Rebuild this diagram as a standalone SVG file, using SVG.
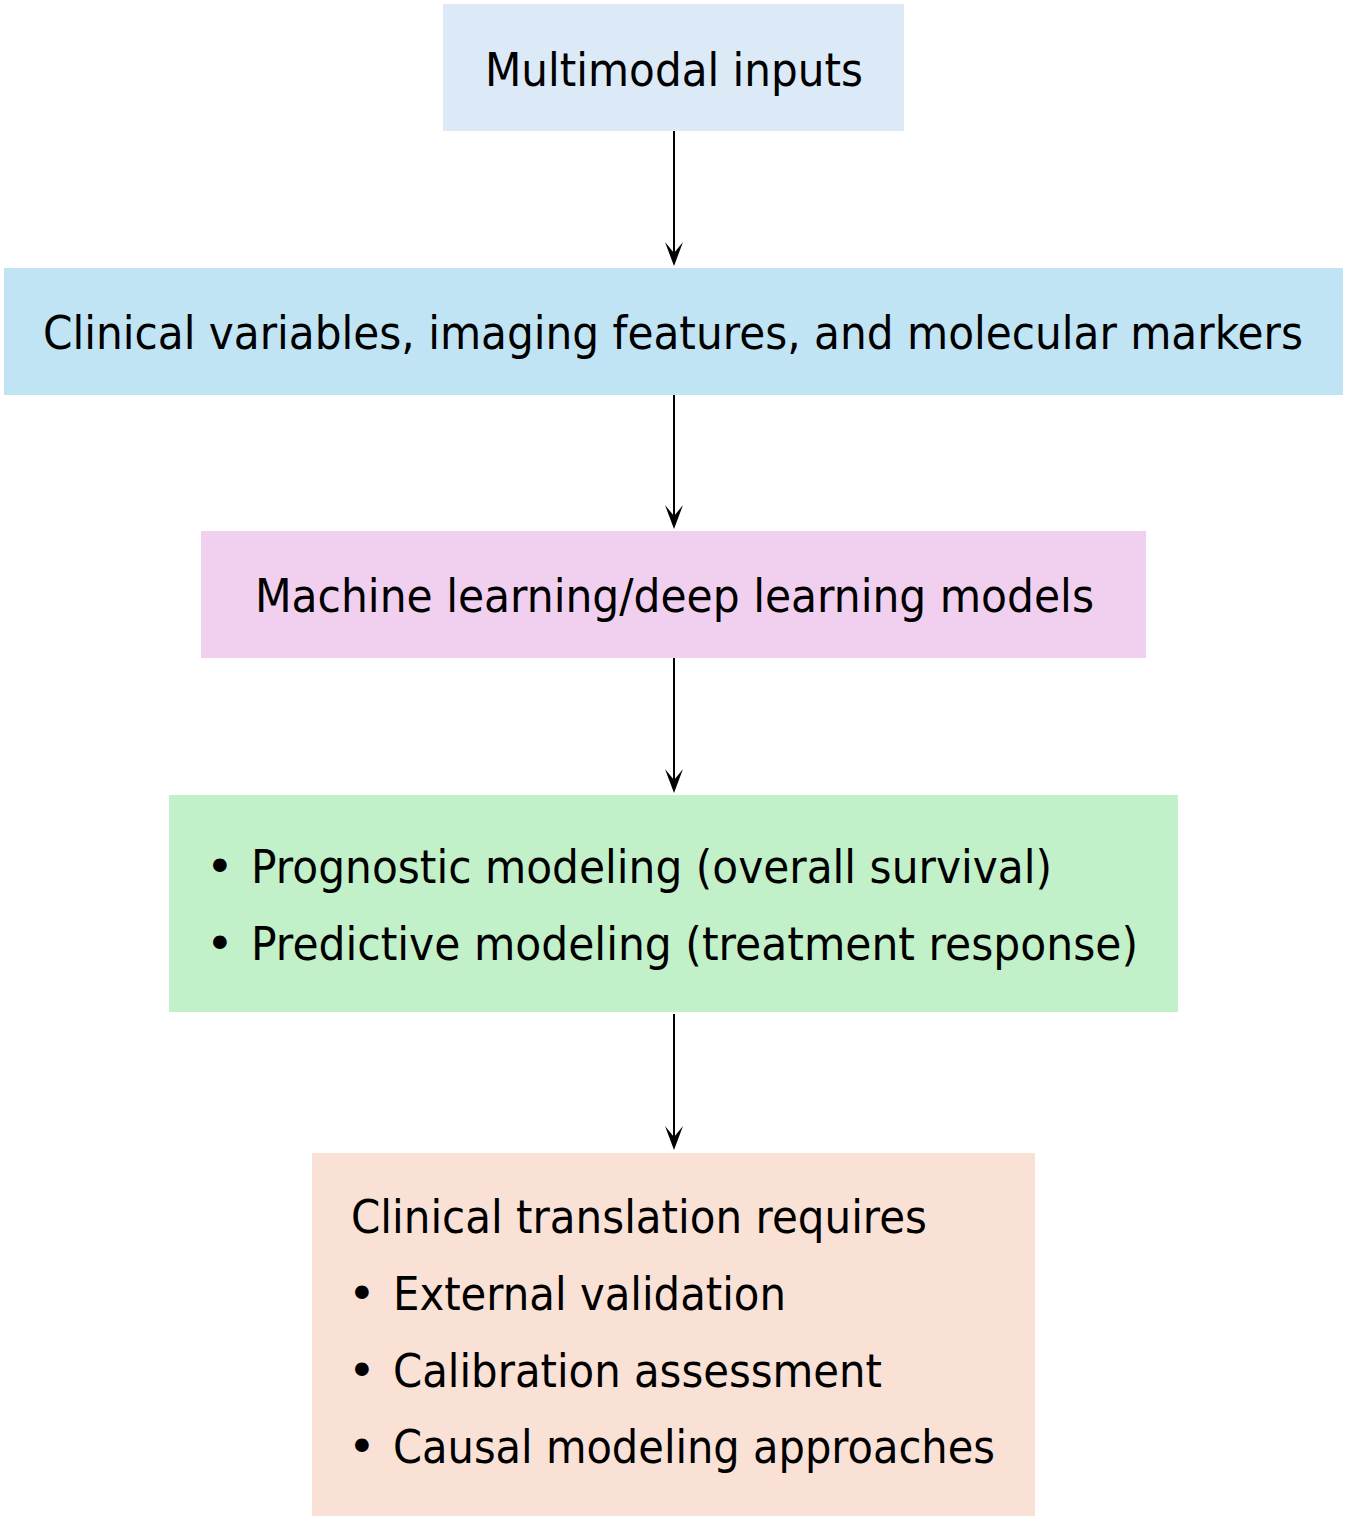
<svg xmlns="http://www.w3.org/2000/svg" width="1348" height="1523" viewBox="0 0 1348 1523">
<defs>
<style>
.t{font-family:"DejaVu Sans","Liberation Sans",sans-serif;font-size:47px;fill:#000}
.c{stroke:#000;stroke-width:2;fill:none}
.h{fill:#000}
</style>
</defs>
<rect width="1348" height="1523" fill="#fff"/>
<g id="connectors">
<line class="c" x1="674" y1="131" x2="674" y2="258"/>
<line class="c" x1="674" y1="395" x2="674" y2="521"/>
<line class="c" x1="674" y1="658" x2="674" y2="785"/>
<line class="c" x1="674" y1="1014" x2="674" y2="1142"/>
<path class="h" d="M665,242 L674,253 L683,242 L674,266 Z"/>
<path class="h" d="M665,505 L674,516 L683,505 L674,529 Z"/>
<path class="h" d="M665,769 L674,780 L683,769 L674,793 Z"/>
<path class="h" d="M665,1126 L674,1137 L683,1126 L674,1150 Z"/>
</g>
<g id="n1">
<rect x="443" y="4" width="461" height="127" fill="#dce9f6"/>
<text class="t" x="485" y="86" textLength="378" lengthAdjust="spacingAndGlyphs">Multimodal inputs</text>
</g>
<g id="n2">
<rect x="4" y="268" width="1339" height="127" fill="#c1e4f4"/>
<text class="t" x="43" y="349" textLength="1260" lengthAdjust="spacingAndGlyphs">Clinical variables, imaging features, and molecular markers</text>
</g>
<g id="n3">
<rect x="201" y="531" width="945" height="127" fill="#f1d0ef"/>
<text class="t" x="255" y="612" textLength="839" lengthAdjust="spacingAndGlyphs">Machine learning/deep learning models</text>
</g>
<g id="n4">
<rect x="169" y="795" width="1009" height="217" fill="#c2f0c9"/>
<text class="t" x="206" y="883">•</text>
<text class="t" x="251" y="883" textLength="801" lengthAdjust="spacingAndGlyphs">Prognostic modeling (overall survival)</text>
<text class="t" x="206" y="960">•</text>
<text class="t" x="251" y="960" textLength="887" lengthAdjust="spacingAndGlyphs">Predictive modeling (treatment response)</text>
</g>
<g id="n5">
<rect x="312" y="1153" width="723" height="363" fill="#fae1d5"/>
<text class="t" x="351" y="1233" textLength="576" lengthAdjust="spacingAndGlyphs">Clinical translation requires</text>
<text class="t" x="348" y="1310">•</text>
<text class="t" x="393" y="1310" textLength="393" lengthAdjust="spacingAndGlyphs">External validation</text>
<text class="t" x="348" y="1387">•</text>
<text class="t" x="393" y="1387" textLength="489" lengthAdjust="spacingAndGlyphs">Calibration assessment</text>
<text class="t" x="348" y="1463">•</text>
<text class="t" x="393" y="1463" textLength="602" lengthAdjust="spacingAndGlyphs">Causal modeling approaches</text>
</g>
</svg>
